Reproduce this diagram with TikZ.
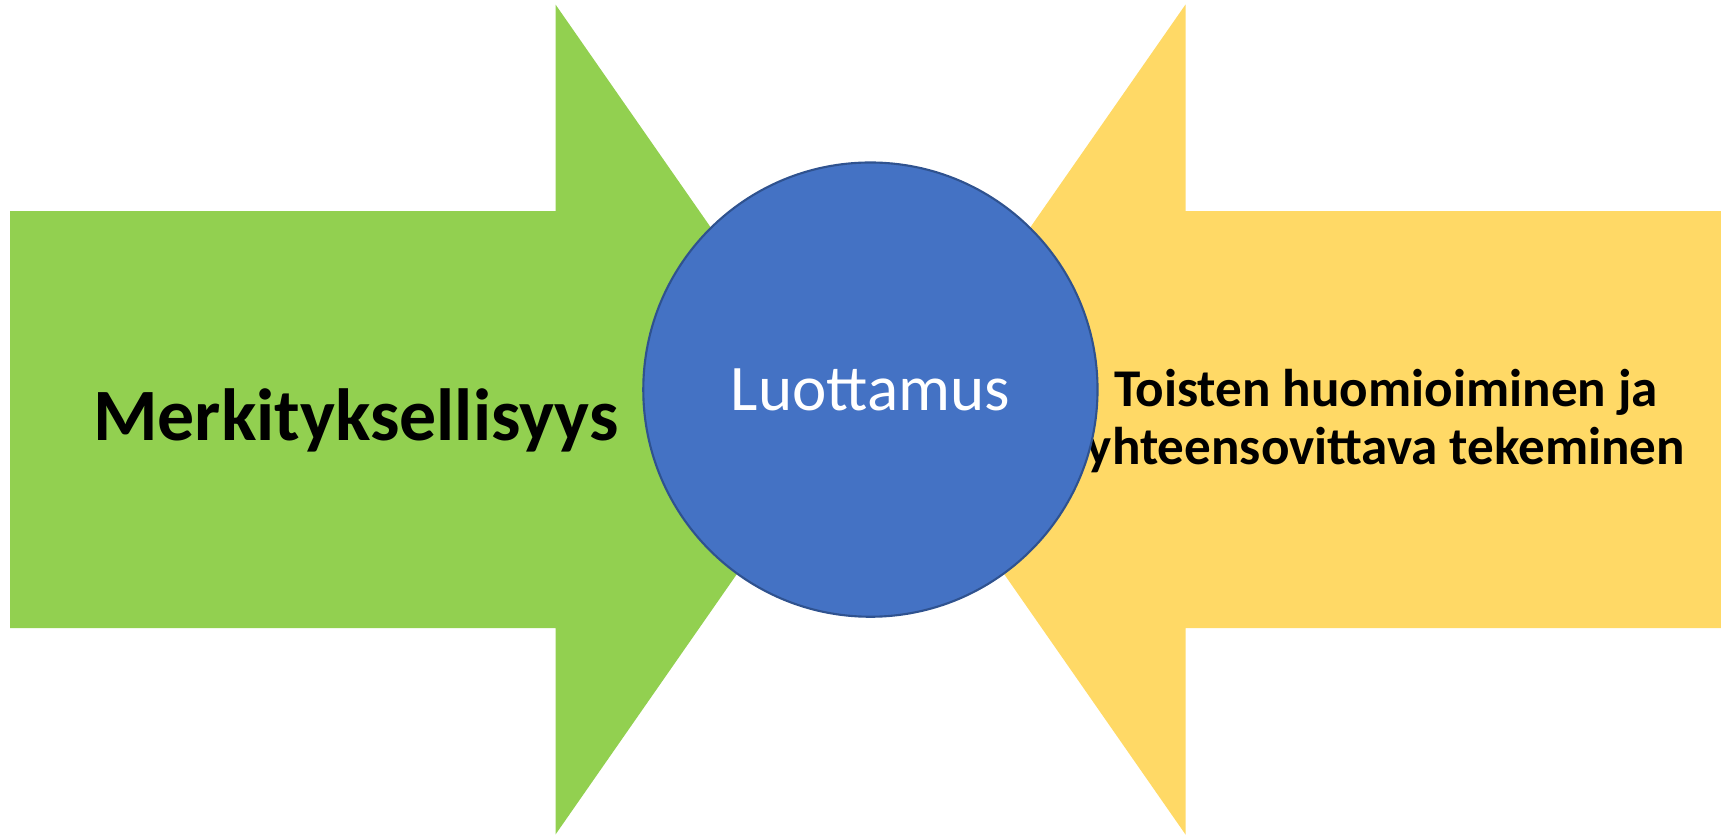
\documentclass[tikz,border=0pt]{standalone}
\usepackage{xcolor}
\usepackage{fontspec}
\setmainfont{Carlito}
\usepackage{tikz}

\definecolor{arrowgreen}{HTML}{92D050}
\definecolor{arrowyellow}{HTML}{FFD966}
\definecolor{circleblue}{HTML}{4472C4}
\definecolor{circleedge}{HTML}{2F528F}

\begin{document}
\begin{tikzpicture}[x=0.01cm, y=-0.01cm,
    arrowtext/.style={text=black, inner sep=0pt, align=center}]
    \useasboundingbox (0, 0) rectangle (1721, 835);

    % the two arrows pointing at each other
    \fill[arrowgreen] (10, 211) -- (555.5, 211) -- (555.5, 4.5) -- (844.5, 419.5)
        -- (555.5, 834.5) -- (555.5, 628) -- (10, 628) -- cycle;
    \fill[arrowyellow] (1721, 211) -- (1185.5, 211) -- (1185.5, 4.5) -- (896.5, 419.5)
        -- (1185.5, 834.5) -- (1185.5, 628) -- (1721, 628) -- cycle;

    \node[arrowtext, anchor=base, font=\bfseries\fontsize{21}{24}\selectfont] at (356, 440) (merk) {Merkityksellisyys};
    \node[arrowtext, font=\bfseries\fontsize{15.1}{16.6}\selectfont] at (1386, 421) (toisten) {Toisten huomioiminen ja\\yhteensovittava tekeminen};

    \node[circle, draw=circleedge, fill=circleblue, line width=0.6pt, minimum size=4.54cm,
        text=white, font=\fontsize{18.5}{22}\selectfont] at (870.4, 389.6) (luott) {Luottamus};
\end{tikzpicture}
\end{document}
